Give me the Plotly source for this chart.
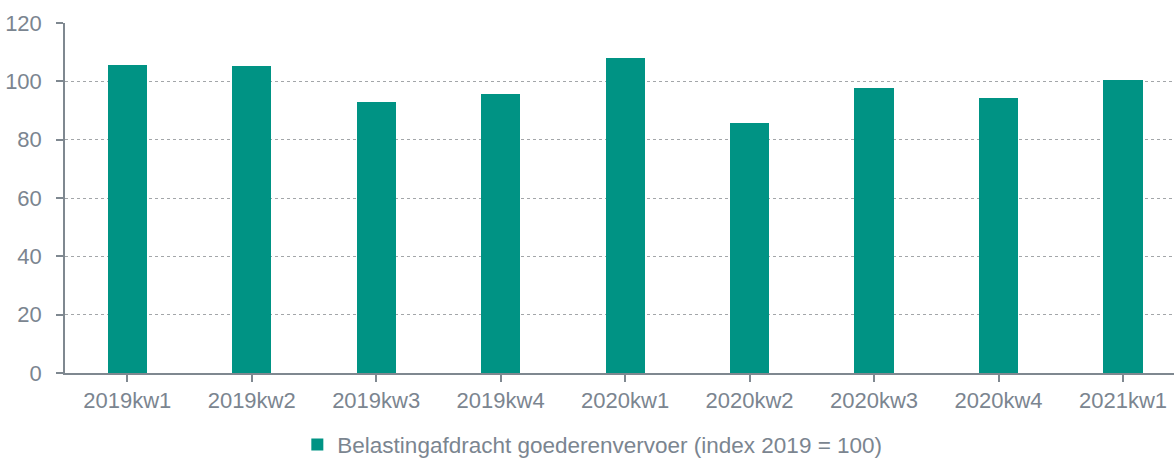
import plotly.graph_objects as go

categories = ["2019kw1", "2019kw2", "2019kw3", "2019kw4", "2020kw1",
              "2020kw2", "2020kw3", "2020kw4", "2021kw1"]
values = [105.6, 105.4, 93.0, 95.8, 108.0, 85.6, 97.7, 94.4, 100.5]
series_name = "Belastingafdracht goederenvervoer (index 2019 = 100)"
y_ticks = [0, 20, 40, 60, 80, 100, 120]

teal = "#009384"
text_gray = "#7b8590"
axis_gray = "#7f8890"

fig = go.Figure()
fig.add_trace(go.Bar(
    x=list(range(len(categories))), y=values, name=series_name,
    marker=dict(color=teal, line=dict(width=0)), width=0.314,
    showlegend=True,
))

fig.update_layout(
    width=1174, height=459,
    margin=dict(l=65, r=0, t=23, b=86, autoexpand=False),
    plot_bgcolor="white", paper_bgcolor="white",
    font=dict(family="Liberation Sans, Arial", size=22, color=text_gray),
    showlegend=True,
    legend=dict(orientation="h", x=0.4755, xanchor="center", y=-0.205, yanchor="middle",
                font=dict(size=22.5, color=text_gray), itemwidth=30),
    bargap=0,
)
fig.update_xaxes(
    range=[-0.5, 8.41], tickmode="array",
    tickvals=list(range(len(categories))), ticktext=categories,
    showline=True, linecolor=axis_gray, linewidth=1.5,
    ticks="outside", ticklen=7, tickcolor=axis_gray, tickwidth=1.5,
    showgrid=False, zeroline=False, automargin=False,
    tickson="boundaries",
)
fig.update_yaxes(
    range=[0, 120], tickvals=y_ticks,
    showline=True, linecolor=axis_gray, linewidth=1.5,
    ticks="outside", ticklen=7, tickcolor=axis_gray, tickwidth=1.5,
    showgrid=True, gridcolor="#a3a6a9", gridwidth=1, griddash="dot",
    zeroline=False, ticklabelstandoff=10, automargin=False,
)

fig.write_html("out.html",
               config={"displayModeBar": False},
               post_script="document.body.style.margin='0px';document.body.style.overflow='hidden';")
